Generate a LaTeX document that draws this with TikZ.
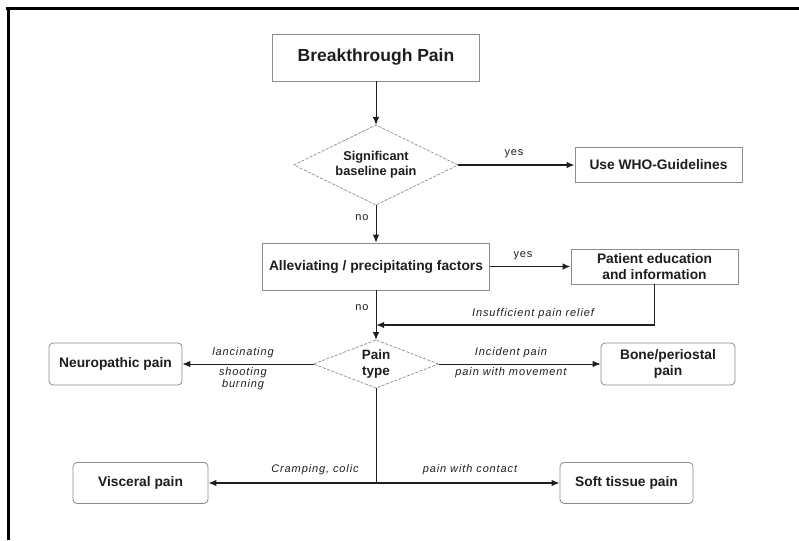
\documentclass[tikz,border=0pt]{standalone}
\usepackage{fontspec}
\setmainfont{Liberation Sans}
\usetikzlibrary{shapes.geometric,arrows.meta}
\definecolor{ink}{HTML}{1E1E1E}
\definecolor{edge}{HTML}{8C8C8C}
\tikzset{
  box/.style={draw=edge,line width=0.8pt,fill=white,text=ink,font=\bfseries\fontsize{13.8}{15.5}\selectfont,align=center,inner sep=0pt},
  rbox/.style={box,rounded corners=4pt},
  dia/.style={draw=edge,dashed,dash pattern=on 3pt off 1.5pt,line width=0.7pt,shape=diamond,inner sep=0pt,outer sep=0pt},
  diatext/.style={text=ink,font=\bfseries\fontsize{13.5}{15.5}\selectfont,align=center,inner sep=0pt},
  conn/.style={draw=ink,line width=1pt,-{Latex[length=8pt,width=6.5pt]}},
  thick conn/.style={conn,line width=1.8pt},
  plain/.style={draw=ink,line width=1pt},
  lab/.style={text=ink,font=\itshape\fontsize{11}{12}\selectfont\addfontfeature{LetterSpace=8},inner sep=0pt},
  ulab/.style={text=ink,font=\fontsize{11}{12}\selectfont\addfontfeature{LetterSpace=8},inner sep=0pt}
}
\begin{document}
\begin{tikzpicture}[x=1pt,y=-1pt]
\useasboundingbox (0,0) rectangle (799,540);
% frame
\fill[black] (6,7.5) rectangle (799,10.5);
\fill[black] (6.5,7.5) rectangle (9.5,540);

\node[box,minimum width=207,minimum height=47,font=\bfseries\fontsize{17.5}{19}\selectfont] (bp) at (376,57.5) {Breakthrough Pain};
\node[dia,minimum width=164,minimum height=80] (d1) at (376,165) {};
\node[diatext,font=\bfseries\fontsize{12.8}{15}\selectfont] (d1t) at (d1.center) {Significant\\baseline pain};
\node[box,minimum width=167,minimum height=35] (who) at (658.5,165) {Use WHO-Guidelines};
\node[box,minimum width=227,minimum height=47] (alle) at (376,266.5) {Alleviating / precipitating factors};
\node[box,minimum width=167,minimum height=35] (pat) at (654.5,266.5) {Patient education\\and information};
\node[dia,minimum width=125,minimum height=48] (d2) at (376,364) {};
\node[diatext] (d2t) at (d2.center) {Pain\\type};
\node[rbox,minimum width=133,minimum height=42] (neuro) at (115.5,364) {Neuropathic pain};
\node[rbox,minimum width=134,minimum height=42] (bone) at (668,364) {Bone/periostal\\pain};
\node[rbox,minimum width=135,minimum height=41] (visc) at (140.5,483) {Visceral pain};
\node[rbox,minimum width=133,minimum height=41] (soft) at (626.5,483) {Soft tissue pain};

\coordinate (ret) at (376,325);
\coordinate (j) at (376,483);

\draw[conn] (bp) -- (d1);
\draw[thick conn] (d1.east) -- (who.west);
\draw[conn] (d1.south) -- (alle.north);
\draw[thick conn] (alle.east) -- (pat.west);
\draw[thick conn] (pat.south) |- (ret);
\draw[conn] (alle.south) -- (d2.north);
\draw[conn] (d2.west) -- (neuro.east);
\draw[conn] (d2.east) -- (bone.west);
\draw[plain] (d2.south) -- (j);
\draw[conn,line width=1.3pt] (j) -- (visc.east);
\draw[conn,line width=1.3pt] (j) -- (soft.west);

\node[ulab] (y1) at (514,154) {yes};
\node[ulab] (n1) at (362,218) {no};
\node[ulab] (y2) at (523,256) {yes};
\node[ulab] (n2) at (362,308) {no};
\node[lab] (ins) at (533,314) {Insufficient pain relief};
\node[lab] (l1) at (243,353) {lancinating};
\node[lab] (l2) at (243,373) {shooting};
\node[lab] (l3) at (243,385) {burning};
\node[lab] (r1) at (511,353) {Incident pain};
\node[lab] (r2) at (511,373) {pain with movement};
\node[lab] (c1) at (315,470) {Cramping, colic};
\node[lab] (c2) at (470,470) {pain with contact};
\end{tikzpicture}
\end{document}
